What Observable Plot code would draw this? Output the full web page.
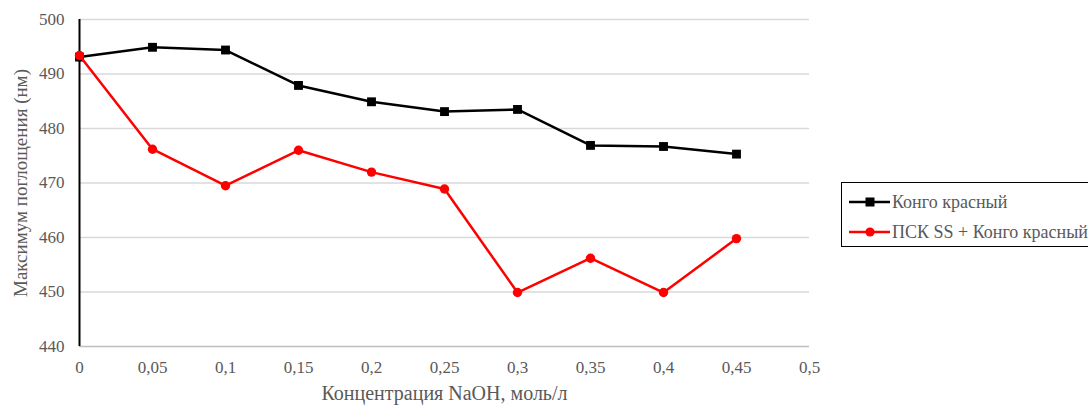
<!DOCTYPE html>
<html>
<head>
<meta charset="utf-8">
<script src="https://cdn.jsdelivr.net/npm/d3@7"></script>
<script src="https://cdn.jsdelivr.net/npm/@observablehq/plot@0.6"></script>
<style>
  html, body { margin: 0; padding: 0; background: #fff; }
  #wrap { position: relative; width: 1088px; height: 405px; overflow: hidden; font-family: "Liberation Serif", "DejaVu Serif", serif; }
  #wrap svg text { font-family: "Liberation Serif", "DejaVu Serif", serif; }
  #legend { position: absolute; left: 841px; top: 182px; width: 260px; height: 65px; border: 1.3px solid #000; background: #fff; box-sizing: border-box; }
  .row { position: absolute; left: 7px; height: 20px; display: flex; align-items: center; font-size: 18px; color: #595959; white-space: nowrap; }
  .row svg { margin-right: 1px; }
</style>
</head>
<body>
<div id="wrap"></div>
<script>
const concentrations = [0, 0.05, 0.1, 0.15, 0.2, 0.25, 0.3, 0.35, 0.4, 0.45];
const congoRed = [493.1, 494.9, 494.4, 487.9, 484.9, 483.1, 483.5, 476.9, 476.7, 475.3];
const pskCongoRed = [493.4, 476.2, 469.5, 476.0, 472.0, 468.9, 449.9, 456.2, 449.9, 459.8];
const seriesNames = ["Конго красный", "ПСК SS + Конго красный"];
const xTicks = [0, 0.05, 0.1, 0.15, 0.2, 0.25, 0.3, 0.35, 0.4, 0.45, 0.5];
const yTicks = [440, 450, 460, 470, 480, 490, 500];
const xLabel = "Концентрация NaOH, моль/л";
const yLabel = "Максимум поглощения (нм)";

const black = concentrations.map((x, i) => ({x, y: congoRed[i]}));
const red = concentrations.map((x, i) => ({x, y: pskCongoRed[i]}));
const fmt = d => String(d).replace(".", ",");
const font = "'Liberation Serif', 'DejaVu Serif', serif";

const chart = Plot.plot({
  width: 1088,
  height: 405,
  marginLeft: 79,
  marginRight: 279,
  marginTop: 19,
  marginBottom: 59,
  style: {fontFamily: font, background: "#fff"},
  x: {domain: [0, 0.5]},
  y: {domain: [440, 500]},
  marks: [
    Plot.gridY(yTicks.filter(d => d > 440), {stroke: "#d9d9d9", strokeOpacity: 1, strokeWidth: 1.3}),
    Plot.ruleY([440], {stroke: "#bfbfbf", strokeWidth: 1.3}),
    Plot.axisX(xTicks, {tickSize: 0, tickPadding: 14, tickFormat: fmt, fontSize: 17, color: "#595959", label: null}),
    Plot.axisY(yTicks, {tickSize: 0, tickPadding: 15, fontSize: 17, color: "#595959", label: null}),
    Plot.ruleX([0], {stroke: "#000", strokeWidth: 2}),
    Plot.line(black, {x: "x", y: "y", stroke: "#000", strokeWidth: 2.5}),
    Plot.dot(black, {x: "x", y: "y", symbol: "square", r: 5, fill: "#000", stroke: "none"}),
    Plot.line(red, {x: "x", y: "y", stroke: "#ff0000", strokeWidth: 2.5}),
    Plot.dot(red, {x: "x", y: "y", symbol: "circle", r: 4.7, fill: "#ff0000", stroke: "none"}),
    Plot.text([xLabel], {frameAnchor: "bottom", dy: 47, fontSize: 20, fill: "#595959", lineAnchor: "middle", textAnchor: "middle"}),
    Plot.text([yLabel], {frameAnchor: "left", dx: -59, rotate: -90, fontSize: 19, fill: "#595959", lineAnchor: "middle", textAnchor: "middle"})
  ]
});

const wrap = document.getElementById("wrap");
wrap.appendChild(chart);

const legend = document.createElement("div");
legend.id = "legend";
const colors = ["#000", "#ff0000"];
const symbols = ["square", "circle"];
seriesNames.forEach((name, i) => {
  const row = document.createElement("div");
  row.className = "row";
  row.style.top = (i === 0 ? 9 : 39) + "px";
  const sw = d3.create("svg").attr("width", 42).attr("height", 20);
  sw.append("line").attr("x1", 0).attr("x2", 41).attr("y1", 10).attr("y2", 10).attr("stroke", colors[i]).attr("stroke-width", 2.5);
  if (symbols[i] === "square") sw.append("rect").attr("x", 16.5).attr("y", 5.5).attr("width", 9).attr("height", 9).attr("fill", colors[i]);
  else sw.append("circle").attr("cx", 21).attr("cy", 10).attr("r", 4.6).attr("fill", colors[i]);
  row.appendChild(sw.node());
  const t = document.createElement("span");
  t.textContent = name;
  row.appendChild(t);
  legend.appendChild(row);
});
wrap.appendChild(legend);
</script>
</body>
</html>
